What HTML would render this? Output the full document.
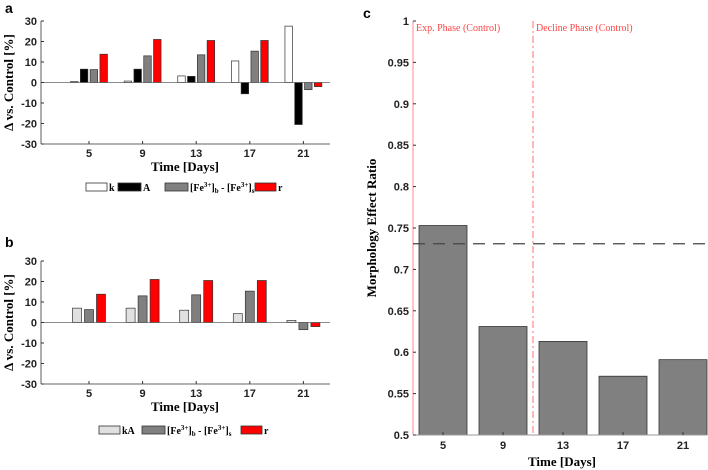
<!DOCTYPE html>
<html><head><meta charset="utf-8"><style>
body{margin:0;background:#fff;}
svg{display:block;font-family:"Liberation Sans",sans-serif;}
.t{font-size:11px;fill:#222;}
.ser{font-family:"Liberation Serif",serif;}
</style></head><body>
<svg id="fig" width="708" height="470"></svg>
<script>
const days = [5, 9, 13, 17, 21];
const aK = [0.5, 0.7, 3.2, 10.5, 27.5];
const aA = [6.5, 6.5, 3, -5.5, -20.5];
const aFe = [6.3, 13, 13.5, 15.3, -3.5];
const aR = [13.8, 21, 20.5, 20.5, -2];
const bKA = [7, 7, 6, 4.3, 1];
const bFe = [6.3, 13, 13.5, 15.3, -3.5];
const bR = [13.8, 21, 20.5, 20.5, -2];
const yTicksAB = [30, 20, 10, 0, -10, -20, -30];
const cVals = [0.753, 0.631, 0.613, 0.571, 0.591];
const cRef = [0.731];
const cPhaseDay = [11];
const yTicksC = [1, 0.95, 0.9, 0.85, 0.8, 0.75, 0.7, 0.65, 0.6, 0.55, 0.5];

const NS = 'http://www.w3.org/2000/svg';
const svg = document.getElementById('fig');
function mk(tag, attrs, parent, text){
  const e = document.createElementNS(NS, tag);
  for (const k in attrs) e.setAttribute(k, attrs[k]);
  if (text !== undefined) e.textContent = text;
  (parent || svg).appendChild(e);
  return e;
}

function panelAB(top, bottom, series, colors, width, pitch, pname){
  const g = mk('g', {});
  
  
  const x0 = 41, x1 = 330;
  const y = v => top + (30 - v) / 60 * (bottom - top);
  const x = d => 89 + (d - 5) / 4 * 53.6;
  const n = series.length;
  series.forEach((s, si) => {
    s.forEach((v, i) => {
      const cx = x(days[i]) + (si - (n - 1) / 2) * pitch;
      const r = mk('rect', {x: cx - width / 2, y: Math.min(y(v), y(0)), width: width, height: Math.abs(y(v) - y(0)),
        fill: colors[si], stroke: '#333', 'stroke-width': 0.7}, g);
      
      
    });
  });
  mk('line', {x1: x0, y1: top, x2: x0, y2: bottom, stroke: '#333', 'stroke-width': 0.8}, g);
  mk('line', {x1: x0, y1: bottom, x2: x1, y2: bottom, stroke: '#333', 'stroke-width': 0.8}, g);
  mk('line', {x1: x0, y1: y(0), x2: x1, y2: y(0), stroke: '#666', 'stroke-width': 0.8}, g);
  yTicksAB.forEach(t => {
    mk('line', {x1: x0, y1: y(t), x2: x0 + 3, y2: y(t), stroke: '#333'}, g);
    const tx = mk('text', {x: x0 - 4, y: y(t) + 4, 'text-anchor': 'end', class: 't', 'font-weight': 'bold'}, g, String(t));
    
    
  });
  days.forEach(d => {
    mk('line', {x1: x(d), y1: bottom, x2: x(d), y2: bottom - 3, stroke: '#333'}, g);
    const tx = mk('text', {x: x(d), y: bottom + 13, 'text-anchor': 'middle', class: 't', 'font-weight': 'bold'}, g, String(d));
    
    
  });
  const xt = mk('text', {x: 185, y: bottom + 27, 'text-anchor': 'middle', class: 'ser', 'font-size': 13, 'font-weight': 'bold'}, g, 'Time [Days]');
  
  
  const yt = mk('text', {transform: 'translate(13,' + (top + bottom) / 2 + ') rotate(-90)', 'text-anchor': 'middle', class: 'ser', 'font-size': 13, 'font-weight': 'bold'}, g, 'Δ vs. Control [%]');
  
  
  return g;
}

panelAB(21, 144, [aK, aA, aFe, aR], ['#fff', '#000', '#808080', '#f00'], 7.5, 9.8, 'panel-a');
panelAB(261, 384, [bKA, bFe, bR], ['#e0e0e0', '#808080', '#f00'], 9, 12, 'panel-b');

function legend(items, y, pname){
  const g = mk('g', {});
  
  
  items.forEach(it => {
    const r = mk('rect', {x: it[0], y: y - 6, width: it[3], height: 8, fill: it[1], stroke: '#333', 'stroke-width': 0.8}, g);
    
    
    const t = mk('text', {x: it[0] + it[3] + 2, y: y + 2, class: 'ser', 'font-size': 10, 'font-weight': 'bold'}, g);
    t.innerHTML = it[2];
    
    
  });
}
const feLbl = '[Fe<tspan font-size="7" dy="-4">3+</tspan><tspan dy="4">]</tspan><tspan font-size="7" dy="2">b</tspan><tspan dy="-2"> - [Fe</tspan><tspan font-size="7" dy="-4">3+</tspan><tspan dy="4">]</tspan><tspan font-size="7" dy="2">s</tspan>';
legend([[86, '#fff', 'k', 21], [118, '#000', 'A', 23], [165, '#808080', feLbl, 23], [255, '#f00', 'r', 21]], 189, 'legend-a');
legend([[99, '#e0e0e0', 'kA', 21], [142, '#808080', feLbl, 23], [241, '#f00', 'r', 21]], 432, 'legend-b');

(function(){
  const g = mk('g', {});
  
  
  const x0 = 413, x1 = 707, top = 21, bottom = 435;
  const y = v => top + (1 - v) / 0.5 * (bottom - top);
  const x = d => 443 + (d - 5) / 4 * 60;
  cVals.forEach((v, i) => {
    const r = mk('rect', {x: x(days[i]) - 24, y: y(v), width: 48, height: bottom - y(v), fill: '#808080', stroke: '#333', 'stroke-width': 0.8}, g);
    
    
  });
  mk('line', {x1: x0, y1: top, x2: x0, y2: bottom, stroke: '#f88', 'stroke-width': 1}, g);
  mk('line', {x1: x0, y1: bottom, x2: x1, y2: bottom, stroke: '#999', 'stroke-width': 1}, g);
  const ph = mk('line', {x1: x(cPhaseDay[0]), y1: top, x2: x(cPhaseDay[0]), y2: bottom, stroke: '#f88', 'stroke-width': 1.2, 'stroke-dasharray': '7,3,2,3'}, g);
  
  
  const rl = mk('line', {x1: x0, y1: y(cRef[0]), x2: x1, y2: y(cRef[0]), stroke: '#444', 'stroke-width': 1.2, 'stroke-dasharray': '12,8'}, g);
  
  
  yTicksC.forEach(t => {
    mk('line', {x1: x0, y1: y(t), x2: x0 + 3, y2: y(t), stroke: '#333'}, g);
    const tx = mk('text', {x: x0 - 4, y: y(t) + 4, 'text-anchor': 'end', class: 't', 'font-weight': 'bold'}, g, String(t));
    
    
  });
  days.forEach(d => {
    mk('line', {x1: x(d), y1: bottom, x2: x(d), y2: bottom - 3, stroke: '#333'}, g);
    const tx = mk('text', {x: x(d), y: bottom + 14, 'text-anchor': 'middle', class: 't', 'font-weight': 'bold'}, g, String(d));
    
    
  });
  const l1 = mk('text', {x: 416, y: 31, class: 'ser', 'font-size': 10, fill: '#f44'}, g, 'Exp. Phase (Control)');
  
  
  const l2 = mk('text', {x: 536, y: 31, class: 'ser', 'font-size': 10, fill: '#f44'}, g, 'Decline Phase (Control)');
  
  
  const xt = mk('text', {x: 562, y: 466, 'text-anchor': 'middle', class: 'ser', 'font-size': 13, 'font-weight': 'bold'}, g, 'Time [Days]');
  
  
  const yt = mk('text', {transform: 'translate(376,228) rotate(-90)', 'text-anchor': 'middle', class: 'ser', 'font-size': 13, 'font-weight': 'bold'}, g, 'Morphology Effect Ratio');
  
  
})();

[['a', 5, 13], ['b', 5, 247], ['c', 363, 18]].forEach(p => {
  const t = mk('text', {x: p[1], y: p[2], 'font-size': 14, 'font-weight': 'bold'}, svg, p[0]);
  
  
});
</script>
</body></html>
